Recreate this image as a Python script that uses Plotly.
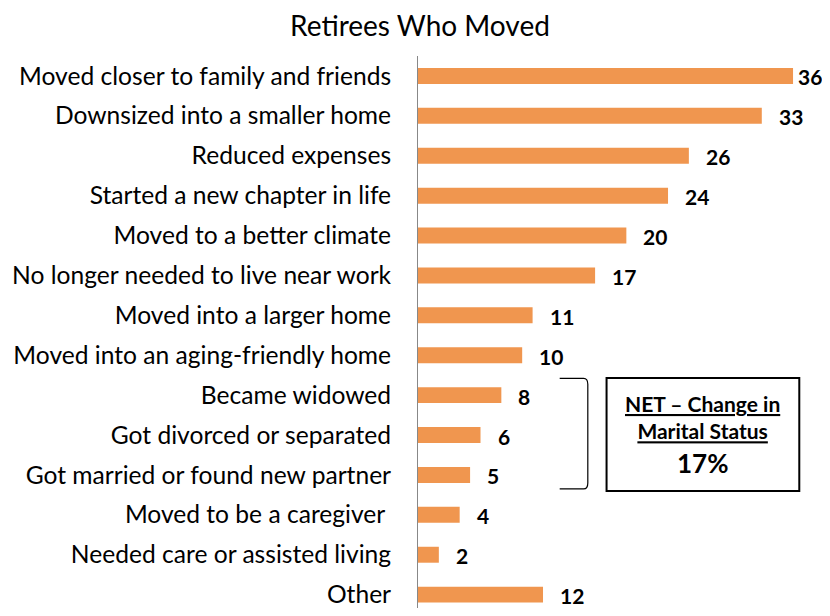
import plotly.graph_objects as go

categories = [
    "Moved closer to family and friends",
    "Downsized into a smaller home",
    "Reduced expenses",
    "Started a new chapter in life",
    "Moved to a better climate",
    "No longer needed to live near work",
    "Moved into a larger home",
    "Moved into an aging-friendly home",
    "Became widowed",
    "Got divorced or separated",
    "Got married or found new partner",
    "Moved to be a caregiver ",
    "Needed care or assisted living",
    "Other",
]
values = [36, 33, 26, 24, 20, 17, 11, 10, 8, 6, 5, 4, 2, 12]
net_title = "NET – Change in<br>Marital Status"
net_value = "17%"

FONT = "Lato"
BAR = "#F0964F"

fig = go.Figure()
fig.add_trace(go.Bar(
    x=values, y=categories, orientation="h",
    marker=dict(color=BAR, line=dict(width=0)),
    width=0.4, hoverinfo="skip",
))

vmax = max(values)
for c, v in zip(categories, values):
    fig.add_annotation(x=v, y=c, text=f"<b>{v}</b>", showarrow=False,
                       xanchor="left", xshift=3 if v == vmax else 15, yshift=-1,
                       font=dict(family=FONT, size=21, color="#000"))

# bracket
y0, y1 = 7.58, 10.35
xa, xb = 13.6, 16.3
fig.add_shape(type="path",
              path=f"M {xa},{y0} L {xb-0.4},{y0} Q {xb},{y0} {xb},{y0+0.15} L {xb},{y1-0.15} Q {xb},{y1} {xb-0.4},{y1} L {xa},{y1}",
              xref="x", yref="y", line=dict(color="#000", width=1.2))
# box
fig.add_shape(type="rect", x0=18.1, x1=36.6, y0=7.57, y1=10.4,
              xref="x", yref="y", line=dict(color="#000", width=2))
fig.add_annotation(x=27.35, y=8.55, xref="x", yref="y",
                   text="<b><u>NET – Change in</u></b><br><b><u>Marital Status</u></b>",
                   showarrow=False, align="center",
                   font=dict(family=FONT, size=21, color="#000"))
fig.add_annotation(x=27.35, y=9.7, xref="x", yref="y",
                   text=f"<b>{net_value}</b>", showarrow=False,
                   font=dict(family=FONT, size=26, color="#000"))

fig.update_layout(
    width=814, height=600,
    margin=dict(l=410, r=0, t=48, b=0, autoexpand=False),
    paper_bgcolor="white", plot_bgcolor="white",
    showlegend=False,
    title=dict(text="Retirees Who Moved", x=412/814, xanchor="center",
               y=1 - 18/600, yanchor="middle",
               font=dict(family=FONT, size=28, color="#000")),
    xaxis=dict(range=[0, 38.78], visible=False, showgrid=False, zeroline=False,
               automargin=False),
    yaxis=dict(categoryorder="array", categoryarray=categories,
               range=[13.335, -0.5], showline=True, linecolor="#888", linewidth=1,
               ticks="", ticklabelstandoff=21, showgrid=False, automargin=False,
               tickfont=dict(family=FONT, size=24.6, color="#000")),
)

fig.write_html("out.html")
